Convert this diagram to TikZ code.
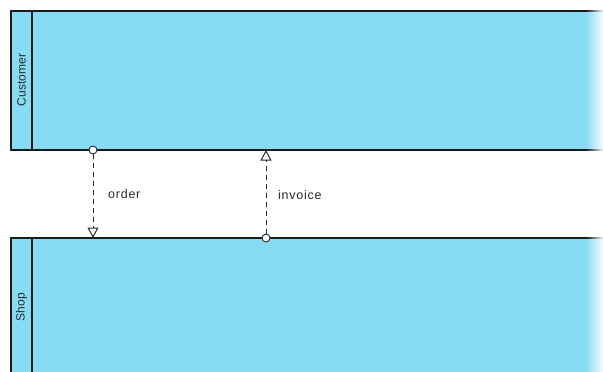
\documentclass[tikz,border=0pt]{standalone}
\usepackage{fontspec}
\setmainfont{Liberation Sans}
\usetikzlibrary{arrows.meta, positioning}
\definecolor{lanefill}{HTML}{87DCF4}
\definecolor{laneline}{HTML}{1A1A1A}
\definecolor{msgline}{HTML}{2A2A2A}
\tikzstyle{lanelabel} = [rotate=90, font=\fontsize{12}{14}\selectfont, text=msgline]
\tikzstyle{port} = [draw=msgline, fill=white, circle, inner sep=0pt, minimum size=8pt, line width=0.9pt]
\tikzstyle{msg} = [draw=msgline, line width=1pt, dash pattern=on 5pt off 4pt, -{Triangle[open, length=10.5pt, width=11pt]}]
\tikzstyle{msglabel} = [anchor=west, inner sep=0pt, text=msgline,
    font=\fontsize{12.5}{14}\selectfont\addfontfeature{LetterSpace=6}]

\begin{document}
\begin{tikzpicture}[x=1pt, y=-1pt]
    \useasboundingbox (0,0) rectangle (603,372);
    % Customer lane
    \fill [lanefill] (11,11) rectangle (586,150);
    \draw [laneline, line width=1.1pt] (586,11) -- (11,11) -- (11,150) -- (586,150);
    \draw [laneline, line width=1.1pt] (32,11) -- (32,150);
    \node [lanelabel] (customer) at (21.5,80) {Customer};
    % Shop lane
    \fill [lanefill] (11,238) rectangle (586,373);
    \draw [laneline, line width=1.1pt] (11,373) -- (11,238) -- (586,238);
    \draw [laneline, line width=1.1pt] (32,238) -- (32,373);
    \node [lanelabel] (shop) at (21.5,307) {Shop};
    % fading right edge
    \foreach \i in {0,...,16} {
        \pgfmathsetmacro{\f}{100-5.5*\i}
        \fill [lanefill!\f!white] (586+\i,11) rectangle (587.05+\i,150);
        \fill [lanefill!\f!white] (586+\i,238) rectangle (587.05+\i,373);
        \draw [laneline!\f!white, line width=1.1pt] (586+\i,11) -- (587.05+\i,11)
            (586+\i,150) -- (587.05+\i,150) (586+\i,238) -- (587.05+\i,238);
    }
    % messages
    \node [port] (orderport) at (93,150) {};
    \coordinate (orderend) at (93,238);
    \node [port] (invoiceport) at (266,238) {};
    \coordinate (invoiceend) at (266,150);
    \draw [msg] (orderport) -- (orderend);
    \draw [msg] (invoiceport) -- (invoiceend);
    \node [msglabel] (order) at (108,194) {order};
    \node [msglabel] (invoice) at (278,195) {invoice};
\end{tikzpicture}
\end{document}
